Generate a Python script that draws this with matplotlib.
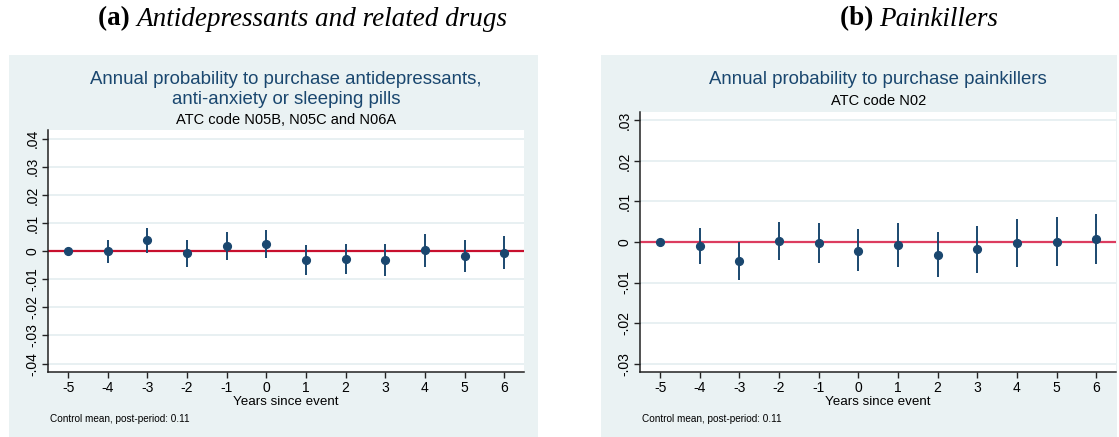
import matplotlib
matplotlib.use("Agg")
import matplotlib.pyplot as plt
from matplotlib.patches import Rectangle

# Event-study estimates (coefficient, 95% CI bounds) by years since event
years = [-5, -4, -3, -2, -1, 0, 1, 2, 3, 4, 5, 6]

antidep_coef = [0.0, -0.0001, 0.0040, -0.0007, 0.0018, 0.0026, -0.0032, -0.0028, -0.0031, 0.0004, -0.0018, -0.0005]
antidep_lo = [0.0, -0.0042, -0.0005, -0.0055, -0.0032, -0.0026, -0.0084, -0.0083, -0.0088, -0.0055, -0.0075, -0.0064]
antidep_hi = [0.0, 0.0039, 0.0083, 0.0038, 0.0068, 0.0077, 0.0021, 0.0026, 0.0026, 0.0061, 0.0040, 0.0053]

pain_coef = [0.0, -0.0009, -0.0047, 0.0002, -0.0002, -0.0021, -0.0007, -0.0031, -0.0018, -0.0002, 0.0001, 0.0008]
pain_lo = [0.0, -0.0053, -0.0093, -0.0045, -0.0052, -0.0072, -0.0062, -0.0087, -0.0076, -0.0062, -0.0059, -0.0053]
pain_hi = [0.0, 0.0034, -0.0001, 0.0049, 0.0048, 0.0031, 0.0046, 0.0024, 0.0039, 0.0056, 0.0061, 0.0070]

antidep_yticks = [-0.04, -0.03, -0.02, -0.01, 0.0, 0.01, 0.02, 0.03, 0.04]
antidep_ylabels = ["-.04", "-.03", "-.02", "-.01", "0", ".01", ".02", ".03", ".04"]
pain_yticks = [-0.03, -0.02, -0.01, 0.0, 0.01, 0.02, 0.03]
pain_ylabels = ["-.03", "-.02", "-.01", "0", ".01", ".02", ".03"]

W, H = 1119, 437
BG = "#EAF2F3"
NAVY = "#1A476F"
GRID = "#E6EFF1"

fig = plt.figure(figsize=(W / 100, H / 100), dpi=100)
fig.patch.set_facecolor("white")


def fx(x):
    return x / W


def fy(y):
    return 1 - y / H


def axes_px(x0, y0, x1, y1):
    ax = fig.add_axes([fx(x0), fy(y1), (x1 - x0) / W, (y1 - y0) / H])
    ax.set_zorder(2)
    return ax


# Light graph-region backgrounds
for x0, x1 in [(9, 538), (601, 1117)]:
    fig.patches.append(Rectangle((fx(x0), 0), (x1 - x0) / W, fy(55),
                                 transform=fig.transFigure, facecolor=BG,
                                 edgecolor="none", zorder=-5))

sans = ["Liberation Sans", "DejaVu Sans"]
TICK = 10


def panel(ax, coef, lo, hi, yticks, ylabels, ylim, zero_color):
    ax.set_facecolor("white")
    ax.set_xlim(-5.5, 6.5)
    ax.set_ylim(-ylim, ylim)
    for t in yticks:
        ax.axhline(t, color=GRID, lw=1.3, zorder=1)
    ax.axhline(0, color=zero_color, lw=1.6, zorder=2)
    ax.vlines(years, lo, hi, color=NAVY, lw=1.4, zorder=3)
    ax.plot(years, coef, "o", color=NAVY, ms=5.6, zorder=4)
    ax.set_xticks(years)
    ax.set_xticklabels([str(v) for v in years], fontsize=TICK, family=sans)
    ax.set_yticks(yticks)
    ax.set_yticklabels(ylabels, fontsize=TICK, family=sans, rotation=90, va="center")
    for s in ["top", "right"]:
        ax.spines[s].set_visible(False)
    for s in ["left", "bottom"]:
        ax.spines[s].set_color("#222222")
        ax.spines[s].set_linewidth(1.1)
    ax.tick_params(axis="both", direction="out", length=4.5, width=1.0,
                   color="#222222", pad=2)


axL = axes_px(48.3, 130, 524, 372.3)
panel(axL, antidep_coef, antidep_lo, antidep_hi, antidep_yticks,
      antidep_ylabels, 0.0431, "#C8102E")

axR = axes_px(640.3, 111.7, 1116, 372.3)
panel(axR, pain_coef, pain_lo, pain_hi, pain_yticks, pain_ylabels,
      0.0321, "#DC3C5F")

# Graph titles and subtitles
cxL = (48.3 + 524) / 2
cxR = (640.3 + 1116) / 2
TS, SS = 13.4, 10.5
fig.text(fx(cxL), fy(80), "Annual probability to purchase antidepressants,",
         ha="center", va="center", fontsize=TS, color=NAVY, family=sans)
fig.text(fx(cxL), fy(99.5), "anti-anxiety or sleeping pills",
         ha="center", va="center", fontsize=TS, color=NAVY, family=sans)
fig.text(fx(cxL), fy(120), "ATC code N05B, N05C and N06A",
         ha="center", va="center", fontsize=SS, color="black", family=sans)
fig.text(fx(cxR), fy(80), "Annual probability to purchase painkillers",
         ha="center", va="center", fontsize=TS, color=NAVY, family=sans)
fig.text(fx(cxR), fy(101), "ATC code N02",
         ha="center", va="center", fontsize=SS, color="black", family=sans)

# Axis titles and notes
for cx, x0 in [(cxL, 50), (cxR, 641.5)]:
    fig.text(fx(cx), fy(402), "Years since event", ha="center", va="center",
             fontsize=9.6, family=sans)
    fig.text(fx(x0), fy(419), "Control mean, post-period: 0.11", ha="left",
             va="center", fontsize=7.2, family=sans)

# Subfigure captions: bold tag followed by italic name
serif = ["Liberation Serif", "DejaVu Serif"]
CS = 19.5
fig.canvas.draw()
renderer = fig.canvas.get_renderer()
for cx, tag, name in [(303, "(a)", "Antidepressants and related drugs"),
                      (919, "(b)", "Painkillers")]:
    a = fig.text(0, 0, tag + " ", fontsize=CS, family=serif, weight="bold",
                 va="center")
    b = fig.text(0, 0, name, fontsize=CS, family=serif, style="italic",
                 va="center")
    wa = a.get_window_extent(renderer).width
    wb = b.get_window_extent(renderer).width
    start = cx - (wa + wb) / 2
    a.set_position((fx(start), fy(19)))
    b.set_position((fx(start + wa), fy(19)))

fig.savefig("out.png", dpi=100, facecolor="white")
